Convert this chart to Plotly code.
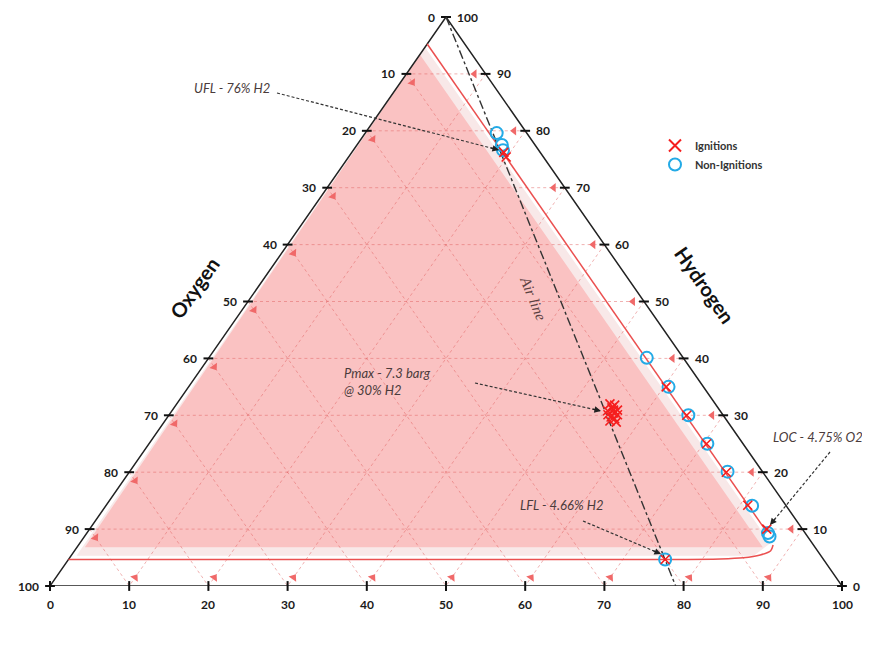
import math
import plotly.graph_objects as go

# page body has an 8px margin; plot area spans x 50..842, y 17..586 in the window
OFF = 8
W, H = 862, 637
ML, MR, MT, MB = 42, 28, 9, 59
SX = (W - ML - MR) / 100.0
SY = (H - MT - MB) / 100.0
X0 = ML + OFF            # window px of x=0
Y0 = OFF + H - MB        # window px of y=0

TICKS = list(range(0, 101, 10))
GRID = list(range(10, 100, 10))

# Ignitions (H2 %, O2 %) ; N2 = balance
ign_h2 = [76.2, 75.4, 35.0, 30.0, 25.0, 20.0, 14.2, 10.0, 4.66,
          32.0, 31.8, 31.3, 30.9, 30.8, 30.4, 30.1, 29.7, 29.4, 29.0, 28.8, 30.9, 30.1]
ign_o2 = [4.6, 4.7, 4.7, 4.6, 4.6, 4.6, 4.8, 4.5, 20.0,
          13.3, 12.8, 13.4, 12.9, 14.2, 13.6, 13.3, 14.3, 14.0, 14.8, 14.1, 13.4, 14.5]
# Non-ignitions (H2 %, O2 %)
non_h2 = [79.6, 77.5, 76.6, 40.1, 35.0, 30.0, 25.0, 20.1, 14.1, 9.3, 8.7, 4.66]
non_o2 = [3.8, 4.2, 4.5, 4.6, 4.4, 4.4, 4.5, 4.4, 4.3, 4.7, 4.8, 20.0]

# Flammability envelope: LOC line and LFL line (H2 %, O2 %)
loc_h2 = [95.25, 9.6]
loc_o2 = [4.75, 4.75]
lfl_h2 = [7.2, 6.2, 5.45, 4.95, 4.75, 4.66, 4.66]
lfl_o2 = [5.1, 5.9, 7.6, 10.0, 13.0, 20.0, 95.34]

# Shaded flammable region (H2 %, O2 %)
soft_h2 = [95.5, 5.3, 5.3, 7.5, 94.7]
soft_o2 = [4.5, 94.0, 8.5, 5.3, 5.3]
zone_h2 = [95.0, 6.8, 6.8, 93.4]
zone_o2 = [5.0, 92.2, 6.6, 6.6]

# Air line: pure H2 to air (21% O2, 79% N2)
air_h2 = [100.0, 0.0]
air_o2 = [0.0, 21.0]


def xy(h2, o2):
    n2 = 100.0 - h2 - o2
    return n2 + h2 / 2.0, h2


def xys(hs, os_):
    pts = [xy(h, o) for h, o in zip(hs, os_)]
    return [p[0] for p in pts], [p[1] for p in pts]


def px2d(px, py):
    return (px - X0) / SX, (Y0 - py) / SY


fig = go.Figure()

# shaded region
sx, sy = xys(soft_h2, soft_o2)
fig.add_trace(go.Scatter(x=sx + [sx[0]], y=sy + [sy[0]], fill="toself", mode="lines",
                         line=dict(width=0), fillcolor="rgb(248,232,232)",
                         hoverinfo="skip", showlegend=False))
zx, zy = xys(zone_h2, zone_o2)
fig.add_trace(go.Scatter(x=zx + [zx[0]], y=zy + [zy[0]], fill="toself", mode="lines",
                         line=dict(width=0), fillcolor="rgb(250,194,194)",
                         hoverinfo="skip", showlegend=False))

# grid lines
gx, gy = [], []
for v in GRID:
    segs = [((v, 100 - v), (v, 0)),            # H2 = v
            ((100 - v, v), (0, v)),            # O2 = v
            ((100 - v, 0), (0, 100 - v))]      # N2 = v
    for a, b in segs:
        p1 = xy(*a)
        p2 = xy(*b)
        gx += [p1[0], p2[0], None]
        gy += [p1[1], p2[1], None]
fig.add_trace(go.Scatter(x=gx, y=gy, mode="lines",
                         line=dict(color="rgba(225,95,95,0.55)", width=0.9, dash="3px,3px"),
                         hoverinfo="skip", showlegend=False))

# red direction arrows near each axis
rx, ry = xys(GRID, [1.4] * len(GRID))
fig.add_trace(go.Scatter(x=rx, y=ry, mode="markers", cliponaxis=False,
                         marker=dict(symbol="triangle-left", size=8, color="rgb(240,105,105)"),
                         hoverinfo="skip", showlegend=False))
lx, ly = xys([100 - v - 1.5 for v in GRID], GRID)
fig.add_trace(go.Scatter(x=lx, y=ly, mode="markers", cliponaxis=False,
                         marker=dict(symbol="triangle-right", size=8, angle=55,
                                     color="rgb(240,105,105)"),
                         hoverinfo="skip", showlegend=False))
bx, by = xys([1.5] * len(GRID), [100 - u - 1.5 for u in GRID])
fig.add_trace(go.Scatter(x=bx, y=by, mode="markers", cliponaxis=False,
                         marker=dict(symbol="triangle-right", size=8, angle=-55,
                                     color="rgb(240,105,105)"),
                         hoverinfo="skip", showlegend=False))

# triangle outline
tx, ty = xys([100, 0, 0, 100], [0, 100, 0, 0])
fig.add_trace(go.Scatter(x=tx, y=ty, mode="lines", cliponaxis=False,
                         line=dict(color="#222222", width=1.5),
                         hoverinfo="skip", showlegend=False))

# tick marks
kx, ky = xys(TICKS, [0] * len(TICKS))
kx2, ky2 = xys([100 - v for v in TICKS], TICKS)
fig.add_trace(go.Scatter(x=kx + kx2, y=ky + ky2, mode="markers", cliponaxis=False,
                         marker=dict(symbol="line-ew", size=7, line=dict(width=2, color="#111")),
                         hoverinfo="skip", showlegend=False))
kx3, ky3 = xys([0] * len(TICKS), [100 - u for u in TICKS])
fig.add_trace(go.Scatter(x=kx3, y=ky3, mode="markers", cliponaxis=False,
                         marker=dict(symbol="line-ns", size=7, line=dict(width=2, color="#111")),
                         hoverinfo="skip", showlegend=False))

# flammability limits lines
cx, cy = xys(loc_h2, loc_o2)
fig.add_trace(go.Scatter(x=cx, y=cy, mode="lines", line=dict(color="rgb(235,80,80)", width=1.5),
                         hoverinfo="skip", showlegend=False))
fx, fy = xys(lfl_h2, lfl_o2)
fig.add_trace(go.Scatter(x=fx, y=fy, mode="lines",
                         line=dict(color="rgb(235,80,80)", width=1.5, shape="spline", smoothing=0.8),
                         hoverinfo="skip", showlegend=False))

# air line
ax_, ay_ = xys(air_h2, air_o2)
fig.add_trace(go.Scatter(x=ax_, y=ay_, mode="lines", cliponaxis=False,
                         line=dict(color="#333333", width=1.4, dash="dashdot"),
                         hoverinfo="skip", showlegend=False))

# data points
nx, ny = xys(non_h2, non_o2)
fig.add_trace(go.Scatter(x=nx, y=ny, mode="markers", name="Non-Ignitions",
                         marker=dict(symbol="circle-open", size=12, color="rgb(35,170,230)",
                                     line=dict(width=2))))
ix, iy = xys(ign_h2, ign_o2)
fig.add_trace(go.Scatter(x=ix, y=iy, mode="markers", name="Ignitions",
                         marker=dict(symbol="x-thin-open", size=9, color="rgb(245,30,30)",
                                     line=dict(width=1.6, color="rgb(245,30,30)"))))

annotations = []
tick_font = dict(family="Lato, Arial", size=12, color="#1a1a1a", weight="bold")
for v in TICKS:
    x, y = xy(v, 0)
    annotations.append(dict(x=x, y=y, text=str(v), showarrow=False, xanchor="left",
                            yanchor="middle", xshift=9, font=tick_font))
    x, y = xy(100 - v, v)
    annotations.append(dict(x=x, y=y, text=str(v), showarrow=False, xanchor="right",
                            yanchor="middle", xshift=-9, font=tick_font))
    x, y = xy(0, 100 - v)
    annotations.append(dict(x=x, y=y, text=str(v), showarrow=False, xanchor="center",
                            yanchor="top", yshift=-9, font=tick_font))

title_font = dict(family="Lato, Arial", size=20, color="#111", weight="bold")
annotations.append(dict(x=px2d(466, 633)[0], y=px2d(466, 633)[1], text="Nitrogen",
                        showarrow=False, font=title_font))
annotations.append(dict(x=px2d(194, 288)[0], y=px2d(194, 288)[1], text="Oxygen",
                        showarrow=False, textangle=-55, font=title_font))
annotations.append(dict(x=px2d(705, 285)[0], y=px2d(705, 285)[1], text="Hydrogen",
                        showarrow=False, textangle=55, font=title_font))
annotations.append(dict(x=px2d(533, 298)[0], y=px2d(533, 298)[1], text="<i>Air line</i>",
                        showarrow=False, textangle=68,
                        font=dict(family="Liberation Serif", size=15, color="#5a4040")))

note_font = dict(family="Lato, Arial", size=13, color="#4a3b3b")


def pointer(text, tpos, tail, head, xanchor="center"):
    annotations.append(dict(x=tpos[0], y=tpos[1], text="<i>" + text + "</i>", showarrow=False,
                            xanchor=xanchor, align="left", font=note_font))
    fig.add_trace(go.Scatter(x=[tail[0], head[0]], y=[tail[1], head[1]], mode="lines",
                             cliponaxis=False,
                             line=dict(color="#333333", width=1.2, dash="3px,2px"),
                             hoverinfo="skip", showlegend=False))
    dx = (head[0] - tail[0]) * SX
    dy = -(head[1] - tail[1]) * SY
    n = math.hypot(dx, dy)
    annotations.append(dict(x=head[0], y=head[1], text="", showarrow=True, arrowhead=2,
                            arrowsize=1.1, arrowwidth=1.2, arrowcolor="#222",
                            ax=-dx / n * 10, ay=-dy / n * 10))


pointer("UFL - 76% H2", px2d(232, 88), px2d(277, 93), px2d(499, 150))
pointer("Pmax - 7.3 barg<br>@ 30% H2", px2d(342, 381), px2d(475, 383), px2d(601, 411),
        xanchor="left")
pointer("LFL - 4.66% H2", px2d(561, 505), px2d(583, 521), px2d(661, 554))
pointer("LOC - 4.75% O2", px2d(818, 437), px2d(830, 452), px2d(770, 525))

fig.update_layout(
    width=W, height=H,
    margin=dict(l=ML, r=MR, t=MT, b=MB),
    paper_bgcolor="white", plot_bgcolor="white",
    xaxis=dict(range=[0, 100], visible=False, fixedrange=True),
    yaxis=dict(range=[0, 100], visible=False, fixedrange=True),
    showlegend=True,
    legend=dict(x=(655 - X0) / (W - ML - MR), y=(Y0 - 131) / (H - MT - MB),
                xanchor="left", yanchor="top", traceorder="reversed",
                itemsizing="constant",
                bgcolor="rgba(0,0,0,0)",
                font=dict(family="Lato, Arial", size=11, color="#333", weight="bold")),
    annotations=annotations,
)

fig.write_html("out.html")
